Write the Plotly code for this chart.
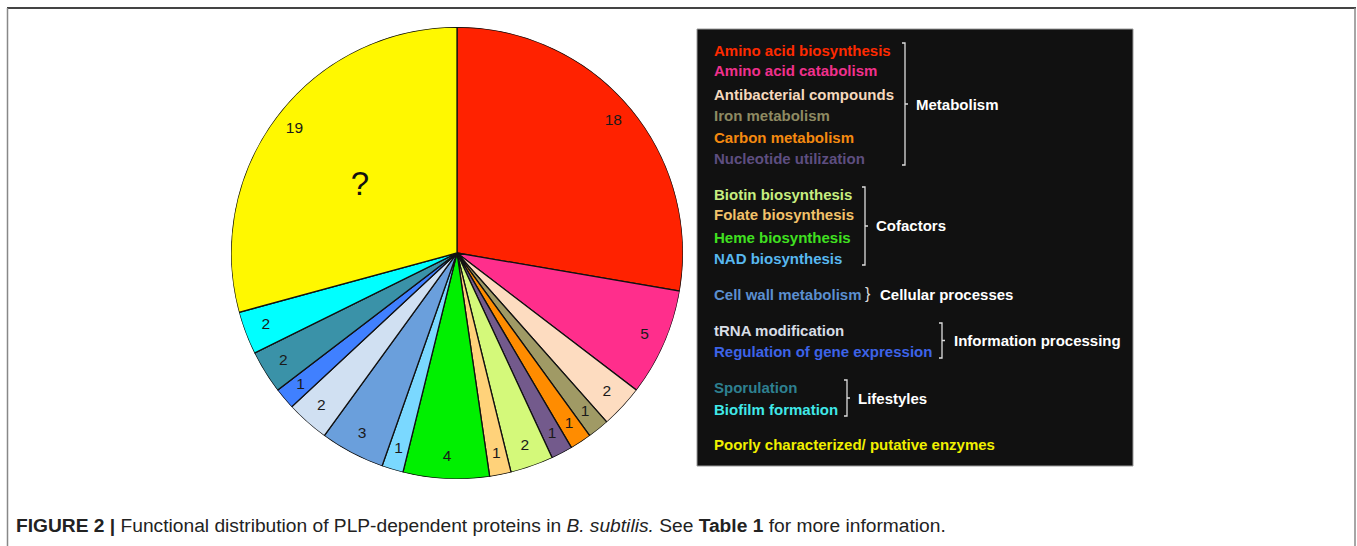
import plotly.graph_objects as go

# ---------------- data ----------------
categories = [
    "Amino acid biosynthesis", "Amino acid catabolism", "Antibacterial compounds",
    "Iron metabolism", "Carbon metabolism", "Nucleotide utilization",
    "Biotin biosynthesis", "Folate biosynthesis", "Heme biosynthesis", "NAD biosynthesis",
    "Cell wall metabolism", "tRNA modification", "Regulation of gene expression",
    "Sporulation", "Biofilm formation", "Poorly characterized/ putative enzymes",
]
counts = [18, 5, 2, 1, 1, 1, 2, 1, 4, 1, 3, 2, 1, 2, 2, 19]
slice_colors = [
    "#FF2200", "#FF2E8C", "#FDDCC0", "#A09A65", "#FF8C00", "#735A8C",
    "#D4F97A", "#FFD27A", "#00F000", "#7AD8FF",
    "#6A9FDC", "#D0E0F2", "#4080FF",
    "#3A92A8", "#00FFFF", "#FFF800",
]
text_colors = [
    "#FF2A00", "#F0308C", "#F5D9BE", "#8E8A62", "#F58A10", "#5E4E80",
    "#C8EE80", "#F2C26A", "#40E020", "#58B8F0",
    "#5B8FD0", "#D8DDE6", "#3D63E8",
    "#2E8090", "#40E8E8", "#F0F000",
]
groups = ["Metabolism", "Cofactors", "Cellular processes", "Information processing", "Lifestyles"]
group_members = [[0, 1, 2, 3, 4, 5], [6, 7, 8, 9], [10], [11, 12], [13, 14]]
caption = ("<b>FIGURE 2 |</b> Functional distribution of PLP-dependent proteins in "
           "<i>B. subtilis.</i> See <b>Table 1</b> for more information.")

# ---------------- layout constants (pixels) ----------------
W, H = 1357, 546
row_y = [50, 71, 94, 115, 137, 158, 194, 215, 237, 258, 294, 330, 351, 387, 409, 444]
text_x = 712
bracket_x = [905, 865, 866, 942, 847]
group_text_x = [914, 874, 878, 952, 856]


def px(x):
    return x / W


def py(y):
    return 1 - y / H


pie_dom_x = [px(231), px(683)]
pie_dom_y = [py(479), py(27)]

total = sum(counts)
mids = []
widths = []
acc = 0
for v in counts:
    mids.append((acc + v / 2) / total * 360)
    widths.append(v / total * 360)
    acc += v

fig = go.Figure()
# pie drawn as full-radius polar wedges
fig.add_trace(go.Barpolar(
    r=[1] * len(counts), theta=mids, width=widths, base=0,
    marker=dict(color=slice_colors, line=dict(color="#111111", width=1.3)),
    customdata=categories, hovertemplate="%{customdata}<extra></extra>",
    showlegend=False,
))
fig.add_trace(go.Scatterpolar(
    r=[0.905] * len(counts), theta=mids, mode="text",
    text=[str(v) for v in counts],
    textfont=dict(family="Liberation Sans, Arial, sans-serif", size=15.5, color="#1a1a1a"),
    hoverinfo="skip", showlegend=False,
))
fig.add_trace(go.Scatterpolar(
    r=[0.52], theta=[mids[-1] - 3], mode="text", text=["?"],
    textfont=dict(family="Liberation Sans, Arial, sans-serif", size=33, color="#111111"),
    hoverinfo="skip", showlegend=False,
))

shapes = []
annotations = []

# page frame
shapes.append(dict(type="line", xref="paper", yref="paper", x0=px(7), x1=px(1356), y0=py(8), y1=py(8),
                   line=dict(color="#444444", width=2)))
shapes.append(dict(type="line", xref="paper", yref="paper", x0=px(7.5), x1=px(7.5), y0=py(8), y1=0,
                   line=dict(color="#888888", width=1.5)))
shapes.append(dict(type="line", xref="paper", yref="paper", x0=px(1355), x1=px(1355), y0=py(8), y1=0,
                   line=dict(color="#888888", width=1.5)))

# legend box
shapes.append(dict(type="rect", xref="paper", yref="paper", x0=px(697), x1=px(1133), y0=py(466), y1=py(29),
                   fillcolor="#111111", line=dict(color="#9a9a9a", width=1), layer="below"))

font_b = "Liberation Sans, Arial, sans-serif"
for i, name in enumerate(categories):
    annotations.append(dict(xref="paper", yref="paper", x=px(text_x), y=py(row_y[i]),
                            xanchor="left", yanchor="middle", showarrow=False,
                            text=f"<b>{name}</b>",
                            font=dict(family=font_b, size=15, color=text_colors[i])))

for g, members in enumerate(group_members):
    top = row_y[members[0]] - 7
    bot = row_y[members[-1]] + 7
    mid = (row_y[members[0]] + row_y[members[-1]]) / 2
    bx = bracket_x[g]
    if len(members) > 1:
        path = (f"M {px(bx - 3)},{py(top)} L {px(bx)},{py(top)} L {px(bx)},{py(bot)} L {px(bx - 3)},{py(bot)} "
                f"M {px(bx)},{py(mid)} L {px(bx + 3)},{py(mid)}")
        shapes.append(dict(type="path", xref="paper", yref="paper", path=path,
                           line=dict(color="#dddddd", width=1.3)))
    else:
        annotations.append(dict(xref="paper", yref="paper", x=px(bx + 2), y=py(mid - 1),
                                xanchor="center", yanchor="middle", showarrow=False, text="}",
                                font=dict(family=font_b, size=16, color="#dddddd")))
    annotations.append(dict(xref="paper", yref="paper", x=px(group_text_x[g]), y=py(mid),
                            xanchor="left", yanchor="middle", showarrow=False,
                            text=f"<b>{groups[g]}</b>",
                            font=dict(family=font_b, size=15, color="#ffffff")))

annotations.append(dict(xref="paper", yref="paper", x=px(14), y=py(525),
                        xanchor="left", yanchor="middle", showarrow=False, text=caption,
                        font=dict(family="Liberation Sans, Arial, sans-serif", size=19.2, color="#222222")))

fig.update_layout(
    width=W, height=H, margin=dict(l=0, r=0, t=0, b=0),
    paper_bgcolor="white", plot_bgcolor="white",
    polar=dict(domain=dict(x=pie_dom_x, y=pie_dom_y), bgcolor="rgba(0,0,0,0)",
               angularaxis=dict(visible=False, rotation=90, direction="clockwise",
                                showgrid=False, showline=False),
               radialaxis=dict(visible=False, range=[0, 1], showgrid=False, showline=False),
               bargap=0),
    shapes=shapes, annotations=annotations, showlegend=False,
)

fig.write_html("out.html", config={"displayModeBar": False},
               post_script="document.body.style.margin='0';")
